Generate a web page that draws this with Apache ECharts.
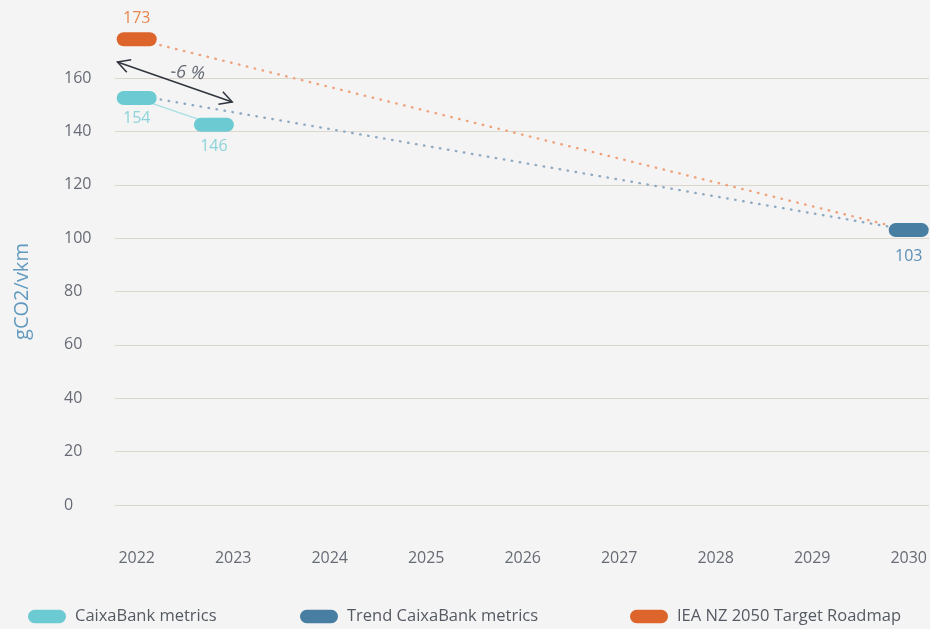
<!DOCTYPE html>
<html>
<head>
<meta charset="utf-8">
<script src="https://cdn.jsdelivr.net/npm/echarts@6/dist/echarts.min.js"></script>
<style>
html,body{margin:0;padding:0;background:#f4f4f4;}
#chart{width:930px;height:629px;}
</style>
</head>
<body>
<div id="chart"></div>
<script>
// ---- data ----
const years = [2022, 2023, 2024, 2025, 2026, 2027, 2028, 2029, 2030];
const yTicks = [0, 20, 40, 60, 80, 100, 120, 140, 160];

const caixaYears = [2022, 2022.8];
const caixaValues = [152.5, 142.5];
const caixaLabels = ['154', '146'];

const trendYears = [2022, 2030];
const trendValues = [153.5, 103];
const trendLabels = ['', '103'];

const ieaYears = [2022, 2030];
const ieaValues = [174.5, 103];
const ieaLabels = ['173', ''];

// annotation arrow: [x1, y1] -> [x2, y2]
const arrowFrom = [2021.80, 166];
const arrowTo = [2022.99, 151];
const arrowText = '-6 %';

const legendNames = ['CaixaBank metrics', 'Trend CaixaBank metrics', 'IEA NZ 2050 Target Roadmap'];

const FONT = '"Open Sans", "Noto Sans", sans-serif';
const PILL = 'path://M7,0 H33 A7,7 0 0 1 33,14 H7 A7,7 0 0 1 7,0 Z';

const C_TEAL = '#6ccbd2';
const C_BLUE = '#477ea2';
const C_ORANGE = '#dd652c';

function pairs(xs, ys) { return xs.map((x, i) => [x, ys[i]]); }

const chart = echarts.init(document.getElementById('chart'), null, {renderer: 'canvas'});

const legendLefts = [23, 295, 625];
const legends = legendNames.map((n, i) => ({
  left: legendLefts[i], top: 603,
  itemWidth: 38, itemHeight: 14,
  icon: PILL,
  textStyle: {color: '#555a62', fontSize: 16.5, fontFamily: FONT, padding: [0, 0, 0, 4]},
  data: [n]
}));

const option = {
  backgroundColor: '#f4f4f4',
  animation: false,
  textStyle: {fontFamily: FONT},
  grid: {left: 115, right: 0, top: 78, bottom: 124, containLabel: false},
  legend: legends,
  xAxis: {
    type: 'value',
    min: 2021.775, max: 2030.21,
    axisLine: {show: false},
    axisTick: {show: false},
    splitLine: {show: false},
    axisLabel: {
      customValues: years,
      color: '#676b75', fontSize: 16, fontFamily: FONT, margin: 45,
      formatter: v => String(v)
    }
  },
  yAxis: {
    type: 'value',
    min: 0, max: 160, interval: 20,
    name: 'gCO2/vkm',
    nameLocation: 'middle',
    nameGap: 83,
    nameTextStyle: {color: '#629abf', fontSize: 20, fontFamily: FONT},
    axisLine: {show: false},
    axisTick: {show: false},
    axisLabel: {align: 'left', margin: 51, color: '#676b75', fontSize: 16, fontFamily: FONT},
    splitLine: {lineStyle: {color: '#dcd7cb', width: 1}}
  },
  series: [
    {
      name: 'IEA NZ 2050 Target Roadmap',
      type: 'line',
      clip: false,
      itemStyle: {color: C_ORANGE},
      lineStyle: {color: '#f0a27c', width: 2.4, type: [0.5, 7.6], cap: 'round'},
      data: pairs(ieaYears, ieaValues).map((p, i) => ({
        value: p,
        symbol: ieaLabels[i] ? PILL : 'none',
        symbolSize: [40, 14],
        label: {
          show: !!ieaLabels[i], position: 'top', distance: 6,
          formatter: () => ieaLabels[i],
          color: '#e8874e', fontSize: 16, fontFamily: FONT
        }
      })),
      z: 2
    },
    {
      name: 'Trend CaixaBank metrics',
      type: 'line',
      clip: false,
      itemStyle: {color: C_BLUE},
      lineStyle: {color: '#8eaac3', width: 2.4, type: [0.5, 7.6], cap: 'round'},
      data: pairs(trendYears, trendValues).map((p, i) => ({
        value: p,
        symbol: trendLabels[i] ? PILL : 'none',
        symbolSize: [40, 14],
        label: {
          show: !!trendLabels[i], position: 'bottom', distance: 11.5,
          formatter: () => trendLabels[i],
          color: '#5b8fb5', fontSize: 16, fontFamily: FONT
        }
      })),
      z: 3
    },
    {
      name: 'CaixaBank metrics',
      type: 'line',
      clip: false,
      itemStyle: {color: C_TEAL},
      lineStyle: {color: '#a6e0e4', width: 1.3},
      data: pairs(caixaYears, caixaValues).map((p, i) => ({
        value: p,
        symbol: PILL,
        symbolSize: [40, 14],
        label: {
          show: true, position: 'bottom', distance: i === 0 ? 5 : 7,
          formatter: () => caixaLabels[i],
          color: '#8dd4da', fontSize: 16, fontFamily: FONT
        }
      })),
      z: 4
    },
    {
      type: 'custom',
      silent: true,
      clip: false,
      z: 5,
      data: [[arrowFrom[0], arrowFrom[1], arrowTo[0], arrowTo[1]]],
      renderItem: function (params, api) {
        const a = api.coord([api.value(0), api.value(1)]);
        const b = api.coord([api.value(2), api.value(3)]);
        const ang = Math.atan2(b[1] - a[1], b[0] - a[0]);
        const L = 14, spread = 0.5;
        function head(p, dir) {
          return [
            [p[0] + L * Math.cos(dir + spread), p[1] + L * Math.sin(dir + spread)],
            p,
            [p[0] + L * Math.cos(dir - spread), p[1] + L * Math.sin(dir - spread)]
          ];
        }
        const st = {stroke: '#30343f', lineWidth: 1.5, fill: null};
        const mx = (a[0] + b[0]) / 2, my = (a[1] + b[1]) / 2;
        return {
          type: 'group',
          children: [
            {type: 'line', shape: {x1: a[0], y1: a[1], x2: b[0], y2: b[1]}, style: st},
            {type: 'polyline', shape: {points: head(a, ang)}, style: st},
            {type: 'polyline', shape: {points: head(b, ang + Math.PI)}, style: st},
            {
              type: 'text',
              x: mx + 13, y: my - 9,
              rotation: -0.08,
              style: {
                text: arrowText, fill: '#676b75', fontSize: 18, fontStyle: 'italic',
                fontFamily: FONT, align: 'center', verticalAlign: 'middle'
              }
            }
          ]
        };
      }
    }
  ]
};

chart.setOption(option);
</script>
</body>
</html>
